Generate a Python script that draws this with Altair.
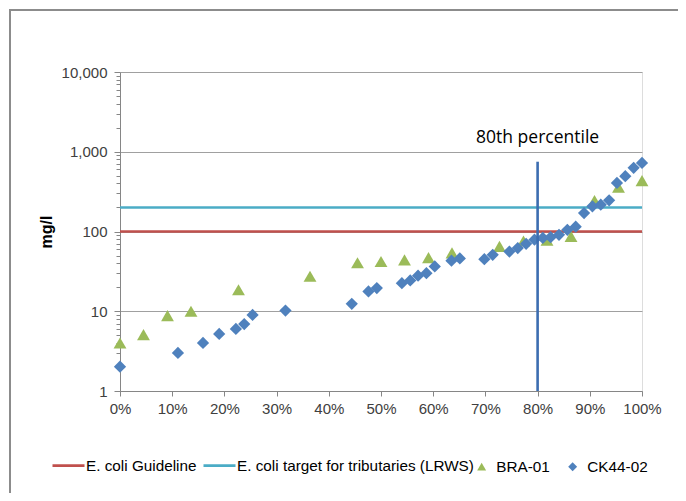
import altair as alt
import pandas as pd

# ---- data ----
ck_x = [0.0, 0.111, 0.159, 0.190, 0.222, 0.238, 0.254, 0.317, 0.444, 0.476, 0.492,
        0.540, 0.556, 0.571, 0.587, 0.603, 0.635, 0.651, 0.698, 0.714, 0.746, 0.762,
        0.778, 0.794, 0.810, 0.825, 0.841, 0.857, 0.873, 0.889, 0.905, 0.921, 0.937,
        0.952, 0.968, 0.984, 1.0]
ck_y = [2.02, 3.0, 4.0, 5.2, 6.0, 6.9, 9.0, 10.2, 12.4, 17.7, 19.5,
        22.5, 24.3, 27.9, 30, 36.5, 43, 46, 45, 51, 56, 62,
        70, 79, 83, 85, 91, 105, 115, 170, 207, 217, 246,
        406, 493, 628, 725]

bra_x = [0.0, 0.045, 0.091, 0.136, 0.227, 0.364, 0.455, 0.5, 0.545, 0.591, 0.636,
         0.727, 0.773, 0.818, 0.864, 0.909, 0.955, 1.0]
bra_y = [4.0, 5.1, 8.8, 10, 18.6, 27.5, 40.5, 42, 44, 47, 54,
         65, 76, 78, 87, 245, 360, 435]

guideline = 100
target = 200
pct_x = 0.8
pct_top = 750
pct_label = "80th percentile"
pct_label_y = 1470

line_series = ["E. coli Guideline", "E. coli target for tributaries (LRWS)"]
line_colors = ["#C0504D", "#4BACC6"]
point_series = ["BRA-01", "CK44-02"]
point_colors = ["#9BBB59", "#4F81BD"]
point_shapes = ["triangle-up", "diamond"]

y_ticks = [m * d for d in [1, 10, 100, 1000] for m in range(1, 10)] + [10000]
x_ticks = [i / 10 for i in range(11)]

W, H = 522, 319
FONT = "Liberation Sans"
LEG_FS = 15.3

xscale = alt.Scale(domain=[0, 1], nice=False)
yscale = alt.Scale(type="log", domain=[1, 10000], nice=False)

x_axis = alt.Axis(values=x_ticks, format=".0%", grid=False, tickSize=5,
                  labelPadding=5, labelFont=FONT, labelFontSize=15,
                  labelColor="#404040", domainColor="#868686", tickColor="#868686",
                  title=None, labelFlush=False)

dec_test = "indexof([1,10,100,1000,10000], datum.value) >= 0"
y_axis = alt.Axis(values=y_ticks, grid=True,
                  gridOpacity={"condition": {"test": dec_test, "value": 1}, "value": 0},
                  gridColor="#a0a0a0",
                  tickSize={"condition": {"test": dec_test, "value": 6}, "value": 4},
                  labelExpr=dec_test + " ? format(datum.value, ',') : ''",
                  labelOverlap=False, labelPadding=7, labelFont=FONT, labelFontSize=15,
                  labelColor="#404040", domainColor="#868686", tickColor="#868686",
                  title="mg/l", titleFont=FONT, titleFontSize=16, titleFontWeight="bold",
                  titleColor="#000000", titlePadding=7)

line_legend = alt.Legend(title=None, orient="none", legendX=-69, legendY=376,
                         direction="horizontal", labelFont=FONT, labelFontSize=LEG_FS,
                         labelColor="#000000", symbolType="stroke", symbolSize=1024,
                         symbolStrokeWidth=2.6, columnPadding=1, labelOffset=0,
                         padding=0, labelLimit=0)

hlines = pd.DataFrame({"series": line_series, "v": [guideline, target],
                       "x0": [0, 0], "x1": [1, 1]})
rules = alt.Chart(hlines).mark_rule(strokeWidth=2.6).encode(
    x=alt.X("x0:Q", scale=xscale, axis=x_axis),
    x2="x1:Q",
    y=alt.Y("v:Q", scale=yscale, axis=y_axis),
    stroke=alt.Stroke("series:N", scale=alt.Scale(domain=line_series, range=line_colors),
                      legend=line_legend),
)

bra = pd.DataFrame({"x": bra_x, "y": bra_y})
tri = alt.Chart(bra).mark_point(shape="triangle-up", filled=True, size=165,
                                color=point_colors[0], opacity=1).encode(
    x=alt.X("x:Q", scale=xscale),
    y=alt.Y("y:Q", scale=yscale),
)

ck = pd.DataFrame({"x": ck_x, "y": ck_y})
dia = alt.Chart(ck).mark_point(shape="diamond", filled=True, size=150,
                               color=point_colors[1], opacity=1).encode(
    x=alt.X("x:Q", scale=xscale),
    y=alt.Y("y:Q", scale=yscale),
)

vline_df = pd.DataFrame({"x": [pct_x], "y0": [1], "y1": [pct_top]})
vline = alt.Chart(vline_df).mark_rule(color="#3C6DB0", strokeWidth=2.6).encode(
    x=alt.X("x:Q", scale=xscale),
    y=alt.Y("y0:Q", scale=yscale),
    y2="y1:Q",
)

txt_df = pd.DataFrame({"x": [pct_x], "y": [pct_label_y], "t": [pct_label]})
txt = alt.Chart(txt_df).mark_text(font="Open Sans", fontSize=17.5, color="#000000",
                                  align="center", baseline="middle").encode(
    x=alt.X("x:Q", scale=xscale),
    y=alt.Y("y:Q", scale=yscale),
    text="t:N",
)

# legend carrier for the two point series: placed below the log domain, clipped away
point_legend = alt.Legend(title=None, orient="none", legendX=354, legendY=387,
                          direction="horizontal", labelFont=FONT, labelFontSize=LEG_FS,
                          labelColor="#000000", symbolSize=80, symbolStrokeWidth=0,
                          columnPadding=15, labelOffset=7, padding=0, labelLimit=0,
                          symbolOpacity=1)
leg_df = pd.DataFrame({"series": point_series, "x": [0.5] * 2, "y": [0.1] * 2})
leg = alt.Chart(leg_df).mark_point(filled=True, clip=True, opacity=1, size=80).encode(
    x=alt.X("x:Q", scale=xscale),
    y=alt.Y("y:Q", scale=yscale),
    fill=alt.Fill("series:N", scale=alt.Scale(domain=point_series, range=point_colors),
                  legend=point_legend),
    shape=alt.Shape("series:N", scale=alt.Scale(domain=point_series, range=point_shapes),
                    legend=point_legend),
)

border_df = pd.DataFrame({"k": [0]})
border = alt.Chart(border_df).mark_rect(fill=None, stroke="#8c8c8c", strokeWidth=2).encode(
    x=alt.value(-110), x2=alt.value(W + 41), y=alt.value(-62), y2=alt.value(H + 110),
)

chart = alt.layer(border, rules, tri, dia, vline, txt, leg).properties(
    width=W, height=H,
    padding={"left": 112, "top": 64, "right": 36, "bottom": 102},
    autosize=alt.AutoSizeParams(type="none"),
).configure_view(stroke=None).configure(background="white")

chart.save("out.html", embed_options={"renderer": "svg", "actions": False})
